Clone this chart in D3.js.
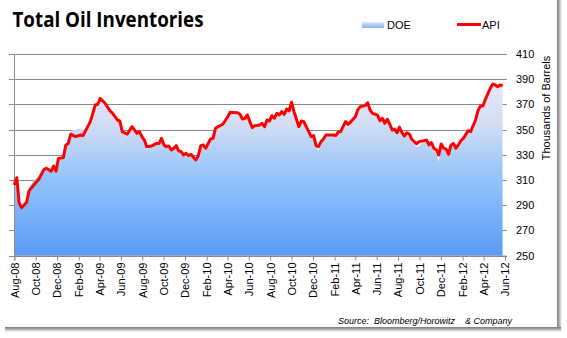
<!DOCTYPE html>
<html><head><meta charset="utf-8">
<script src="https://cdn.jsdelivr.net/npm/d3@7"></script>
<style>
html,body{margin:0;padding:0;background:#fff;}
svg{display:block;}
</style></head>
<body>
<script>
const title = "Total Oil Inventories";
const seriesNames = ["DOE", "API"];
const tickLabels = ["Aug-08","Oct-08","Dec-08","Feb-09","Apr-09","Jun-09","Aug-09","Oct-09","Dec-09","Feb-10","Apr-10","Jun-10","Aug-10","Oct-10","Dec-10","Feb-11","Apr-11","Jun-11","Aug-11","Oct-11","Dec-11","Feb-12","Apr-12","Jun-12"];
const yTicks = [250,270,290,310,330,350,370,390,410];
const startLabel = "Aug-08";
// week offsets from the first weekly report (Aug 1, 2008)
const weeks = [0,1,2,3,5,6,8,10,12,13,15,16,17,18,20,21,22,23,25,27,28,31,33,34,35,37,39,40,42,43,44,46,48,50,51,52,53,54,56,58,59,60,61,62,63,64,65,66,67,68,69,70,71,72,74,75,76,77,78,80,81,82,83,85,87,88,91,92,93,94,95,96,97,98,100,101,102,103,104,105,106,107,108,109,110,111,112,113,114,116,117,118,120,121,122,123,124,125,126,127,130,131,132,133,135,136,137,139,140,141,143,144,145,146,148,149,150,151,152,153,154,155,156,157,158,159,160,161,162,164,165,167,168,169,170,171,172,173,174,175,176,177,178,179,180,181,182,183,185,186,188,189,190,191,192,194,195,196,197,198,199];
const api = [306,311.8,291.5,288,292.3,301.3,306,310.6,318,319.3,317,321,317,327,327.7,337.8,339,346.3,344.4,345.7,345.2,356.3,369.5,370,374.8,370.9,364.8,363,357.6,356.8,348.3,346.3,352.3,347,348.3,344.4,341.7,336.4,337,339,339,343,337.8,336.4,337,333.8,335.2,337.2,333,332.5,329.8,331.2,329.3,330.4,325.9,329.3,337.2,337.8,335.2,342.5,343,351,352.3,354.2,360.2,363.7,363.4,362.1,358.4,359,361.6,356.3,351.5,353.1,353.6,355,352.3,357.6,356.8,361,359,362.9,361.6,364.2,362.1,366.3,364.8,371.7,364.2,352.3,356.8,356.3,348.3,344.4,345.2,337.2,336.4,340.4,342.5,345.7,345.7,345.2,347.9,348.3,356.3,354.2,355.8,360.2,365.6,368.2,369,371.3,365.6,362.9,361.6,357.1,359,355,358.2,354.4,349.7,350.2,347.5,351.8,347.5,344.9,347.5,346.5,342.3,338.6,340.4,341.2,341.7,337.8,339.6,335.2,333.8,329.8,338.6,335.2,334.4,330.4,337.8,339,335.2,337.8,341.2,343,349.1,348.3,357.6,365,368.7,368.7,374,382.8,386.2,385.4,384,385.4,384.6];
const doe = [306,311.8,291.5,288,292.3,304,310,313,318,319.3,317,321,317,327,327.7,337.8,339,349,350,351,350,356.3,369.5,370,374.8,370.9,364.8,363,357.6,356.8,348.3,344,352.3,347,348.3,344.4,341.7,334,337,339,339,343,337.8,336.4,337,333.8,335.2,337.2,333,332.5,329.8,328,329.3,330.4,325.9,329.3,337.2,337.8,335.2,342.5,343,351,352.3,354.2,360.2,363.7,363.4,362.1,358.4,359,361.6,356.3,351.5,353.1,353.6,355,352.3,357.6,356.8,361,359,362.9,361.6,364.2,362.1,366.3,364.8,371.7,364.2,352.3,356.8,356.3,348.3,344.4,345.2,337.2,333,340.4,342.5,345.7,345.7,345.2,347.9,348.3,356.3,354.2,355.8,360.2,365.6,368.2,369,371.3,365.6,362.9,361.6,357.1,359,355,358.2,354.4,349.7,352,352,355,347.5,344.9,347.5,346.5,342.3,336,337,341.2,341.7,337.8,339.6,333,331,324.5,338.6,335.2,332,330.4,337.8,339,335.2,337.8,341.2,343,349.1,348.3,357.6,365,368.7,368.7,374,382.8,386.2,385.4,384,385.4,384.6];
const sourceText = "Source:  Bloomberg/Horowitz    & Company";
const yTitle = "Thousands of Barrels";

const W = 567, H = 338;
const parseM = d3.timeParse("%b-%y");
const t0 = parseM(startLabel);
const dates = weeks.map(w => d3.timeDay.offset(t0, 7 * w));
const tickDates = tickLabels.map(parseM);

const x = d3.scaleTime().domain([tickDates[0], tickDates[tickDates.length - 1]]).range([14.3, 505]);
const y = d3.scaleLinear().domain([250, 410]).range([255.5, 54]);

const svg = d3.select("body").append("svg").attr("width", W).attr("height", H);
const defs = svg.append("defs");

const g1 = defs.append("linearGradient").attr("id", "areaGrad")
  .attr("gradientUnits", "userSpaceOnUse").attr("x1", 0).attr("x2", 0).attr("y1", y(410)).attr("y2", y(250));
[[0, "#f6f1fb"], [0.35, "#d2ddf3"], [0.62, "#93c3fa"], [1, "#5b9bf6"]].forEach(([o, c]) =>
  g1.append("stop").attr("offset", o).attr("stop-color", c));

const g2 = defs.append("linearGradient").attr("id", "legGrad").attr("x1", 0).attr("x2", 0).attr("y1", 0).attr("y2", 1);
[[0, "#dfe9fb"], [1, "#7fb2f5"]].forEach(([o, c]) => g2.append("stop").attr("offset", o).attr("stop-color", c));

const gR = defs.append("linearGradient").attr("id", "shR").attr("x1", 0).attr("x2", 1).attr("y1", 0).attr("y2", 0);
[[0, "#7a7a7a"], [0.4, "#a8a8a8"], [1, "#ffffff"]].forEach(([o, c]) => gR.append("stop").attr("offset", o).attr("stop-color", c));
const gB = defs.append("linearGradient").attr("id", "shB").attr("x1", 0).attr("x2", 0).attr("y1", 0).attr("y2", 1);
[[0, "#7a7a7a"], [0.4, "#a8a8a8"], [1, "#ffffff"]].forEach(([o, c]) => gB.append("stop").attr("offset", o).attr("stop-color", c));

// frame shadow
svg.append("rect").attr("x", 557).attr("y", 0).attr("width", 5).attr("height", 332).attr("fill", "url(#shR)");
svg.append("rect").attr("x", 5).attr("y", 327).attr("width", 556).attr("height", 5).attr("fill", "url(#shB)");

// gridlines
svg.append("g").selectAll("line").data(yTicks).join("line")
  .attr("x1", 14.3).attr("x2", 507).attr("y1", d => Math.round(y(d)) + 0.5).attr("y2", d => Math.round(y(d)) + 0.5)
  .attr("stroke", "#8a8a8a").attr("stroke-width", 1);

// DOE area
const area = d3.area().x((d, i) => x(dates[i])).y0(y(250)).y1(d => y(d));
svg.append("path").datum(doe).attr("d", area).attr("fill", "url(#areaGrad)");

// left axis
svg.append("line").attr("x1", 14.5).attr("x2", 14.5).attr("y1", y(410)).attr("y2", y(250)).attr("stroke", "#8a8a8a");
svg.append("g").selectAll("line").data(yTicks).join("line")
  .attr("x1", 9).attr("x2", 14.5).attr("y1", d => Math.round(y(d)) + 0.5).attr("y2", d => Math.round(y(d)) + 0.5)
  .attr("stroke", "#8a8a8a");

// x axis
const xAxis = d3.axisBottom(x).tickValues(tickDates).tickFormat(d3.timeFormat("%b-%y")).tickSize(5).tickPadding(3);
const xg = svg.append("g").attr("transform", `translate(0,${y(250)})`).call(xAxis);
xg.select(".domain").attr("stroke", "#8a8a8a");
xg.selectAll(".tick line").attr("stroke", "#8a8a8a");
xg.selectAll(".tick text")
  .attr("transform", "rotate(-90)").attr("text-anchor", "end")
  .attr("x", -7).attr("y", 0).attr("dy", "0.35em")
  .attr("font-family", "Liberation Sans, Arial, sans-serif").attr("font-size", 11).attr("fill", "#000");

// right axis labels
const yAxis = d3.axisRight(y).tickValues(yTicks).tickSize(0).tickPadding(0);
const yg = svg.append("g").attr("transform", "translate(516,0)").call(yAxis);
yg.select(".domain").remove();
yg.selectAll(".tick text").attr("font-family", "Liberation Sans, Arial, sans-serif").attr("font-size", 11).attr("fill", "#000");

// API line
const line = d3.line().x((d, i) => x(dates[i])).y(d => y(d));
svg.append("path").datum(api).attr("d", line).attr("fill", "none")
  .attr("stroke", "#ff0000").attr("stroke-width", 3).attr("stroke-linejoin", "round");

// axis title
svg.append("text").attr("transform", "translate(550,108) rotate(-90)").attr("text-anchor", "middle")
  .attr("font-family", "Liberation Sans, Arial, sans-serif").attr("font-size", 11).text(yTitle);

// title
svg.append("text").attr("x", 12.5).attr("y", 27).attr("font-family", "Open Sans, sans-serif")
  .attr("font-weight", "bold").attr("font-size", 21).attr("textLength", 191).attr("lengthAdjust", "spacingAndGlyphs")
  .text(title);

// legend
svg.append("rect").attr("x", 362).attr("y", 22).attr("width", 22).attr("height", 6).attr("fill", "url(#legGrad)");
svg.append("text").attr("x", 387).attr("y", 28.5).attr("font-family", "Liberation Sans, Arial, sans-serif")
  .attr("font-size", 11).text(seriesNames[0]);
svg.append("line").attr("x1", 457).attr("x2", 481).attr("y1", 24.5).attr("y2", 24.5)
  .attr("stroke", "#ff0000").attr("stroke-width", 3);
svg.append("text").attr("x", 482).attr("y", 28.5).attr("font-family", "Liberation Sans, Arial, sans-serif")
  .attr("font-size", 11).text(seriesNames[1]);

// source
svg.append("text").attr("x", 338).attr("y", 324).attr("font-family", "Liberation Sans, Arial, sans-serif")
  .attr("font-style", "italic").attr("font-size", 9).style("white-space", "pre").text(sourceText);
</script>
</body></html>
